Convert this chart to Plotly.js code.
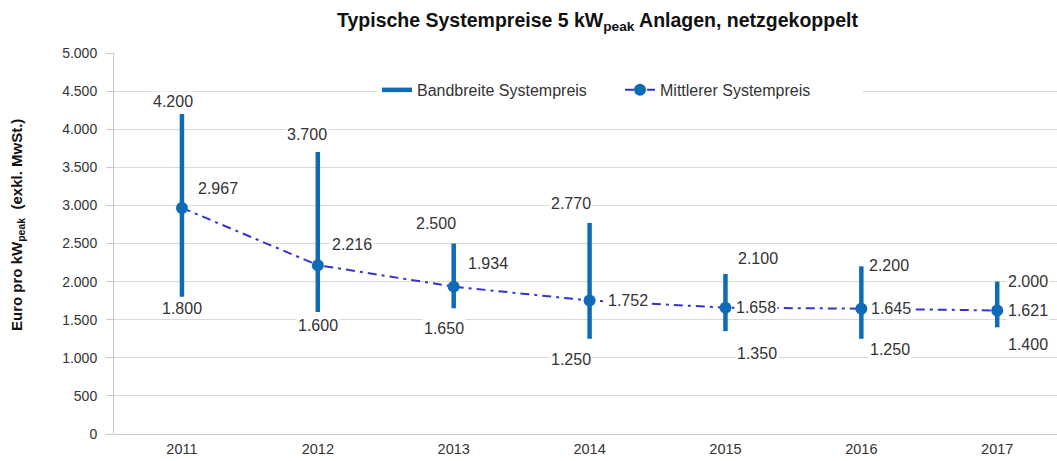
<!DOCTYPE html>
<html>
<head>
<meta charset="utf-8">
<script src="https://cdn.plot.ly/plotly-3.0.1.min.js"></script>
<style>html,body{margin:0;padding:0;background:#fff;}#chart{width:1057px;height:461px;}</style>
</head>
<body>
<div id="chart"></div>
<script>
var years = [2011, 2012, 2013, 2014, 2015, 2016, 2017];
var highPrice = [4200, 3700, 2500, 2770, 2100, 2200, 2000];
var lowPrice  = [1800, 1600, 1650, 1250, 1350, 1250, 1400];
var meanPrice = [2967, 2216, 1934, 1752, 1658, 1645, 1621];
var yTicks = [0, 500, 1000, 1500, 2000, 2500, 3000, 3500, 4000, 4500, 5000];

// label offsets in pixels [xshift, yshift] (style, not data)
var highOff = [[-9,12],[-11,18],[-18,20],[-19,19],[33,15],[28,1],[31,0]];
var lowOff  = [[0,-12],[0,-13],[-10,-20],[-19,-21],[32,-22],[29,-11],[31,-17]];
var meanOff = [[36,19],[34,21],[34,23],[38,0],[31,0],[30,0],[31,0]];

function fmt(v){
  var s = String(Math.round(v));
  return s.replace(/\B(?=(\d{3})+(?!\d))/g, ".");
}

var rangeX = [], rangeY = [];
years.forEach(function(y,i){
  rangeX.push(y, y, null);
  rangeY.push(lowPrice[i], highPrice[i], null);
});

var blue = "#0f6bb8";
var traces = [
  {
    type: "scatter", mode: "lines", name: "Bandbreite Systempreis",
    x: rangeX, y: rangeY, connectgaps: false,
    line: {color: blue, width: 4.5}, hoverinfo: "skip"
  },
  {
    type: "scatter", mode: "lines+markers", name: "Mittlerer Systempreis",
    x: years, y: meanPrice,
    line: {color: "#3434cc", width: 2, dash: "9px,5px,3px,5px"},
    marker: {color: blue, size: 12}
  }
];

var font = "Liberation Sans, Arial, sans-serif";
var txt = "#333333";
var annotations = [];
function addLabels(vals, offs){
  vals.forEach(function(v,i){
    annotations.push({
      x: years[i], y: v, xref: "x", yref: "y",
      text: fmt(v), showarrow: false,
      xshift: offs[i][0], yshift: offs[i][1],
      bgcolor: "#ffffff", borderpad: 1,
      font: {family: font, size: 16, color: txt}
    });
  });
}
addLabels(highPrice, highOff);
addLabels(lowPrice, lowOff);
addLabels(meanPrice, meanOff);

annotations.push({
  xref: "paper", yref: "paper", x: -0.1018, y: 0.5486,
  xanchor: "center", yanchor: "middle",
  text: "<b>Euro pro kW<sub>peak</sub>  (exkl. MwSt.)</b>",
  textangle: -90, showarrow: false,
  font: {family: font, size: 15, color: "#111111"}
});

var layout = {
  width: 1057, height: 461,
  margin: {l: 114, r: 0, t: 53, b: 27},
  paper_bgcolor: "#ffffff", plot_bgcolor: "#ffffff",
  separators: ",.",
  showlegend: true,
  title: {
    text: "<b>Typische Systempreise 5 kW<sub>peak</sub> Anlagen, netzgekoppelt</b>",
    x: 0.5127, xref: "paper", xanchor: "center", y: 0.9566, yanchor: "middle",
    font: {family: font, size: 19.5, color: "#111111"}
  },
  legend: {
    orientation: "h", x: 0.2789, xanchor: "left", y: 0.903, yanchor: "middle",
    bgcolor: "#ffffff", font: {family: font, size: 16, color: txt},
    entrywidth: 198, entrywidthmode: "pixels"
  },
  xaxis: {
    type: "linear", range: [2010.5, 2017.44], tickvals: years, tickformat: "d",
    showgrid: false, zeroline: false, showline: false,
    ticks: "", tickfont: {family: font, size: 14.5, color: txt},
    ticklabelstandoff: 4, fixedrange: true
  },
  yaxis: {
    range: [0, 5000], tickvals: yTicks, tickformat: ",d",
    showgrid: true, gridcolor: "#d9d9d9", gridwidth: 1,
    zeroline: true, zerolinecolor: "#c8c8c8", zerolinewidth: 1,
    showline: true, linecolor: "#c8c8c8", linewidth: 1,
    ticks: "outside", ticklen: 7, tickcolor: "#c8c8c8",
    tickfont: {family: font, size: 14, color: txt},
    ticklabelstandoff: 6, fixedrange: true
  },
  annotations: annotations
};

Plotly.newPlot("chart", traces, layout, {displayModeBar: false, staticPlot: true});
</script>
</body>
</html>
